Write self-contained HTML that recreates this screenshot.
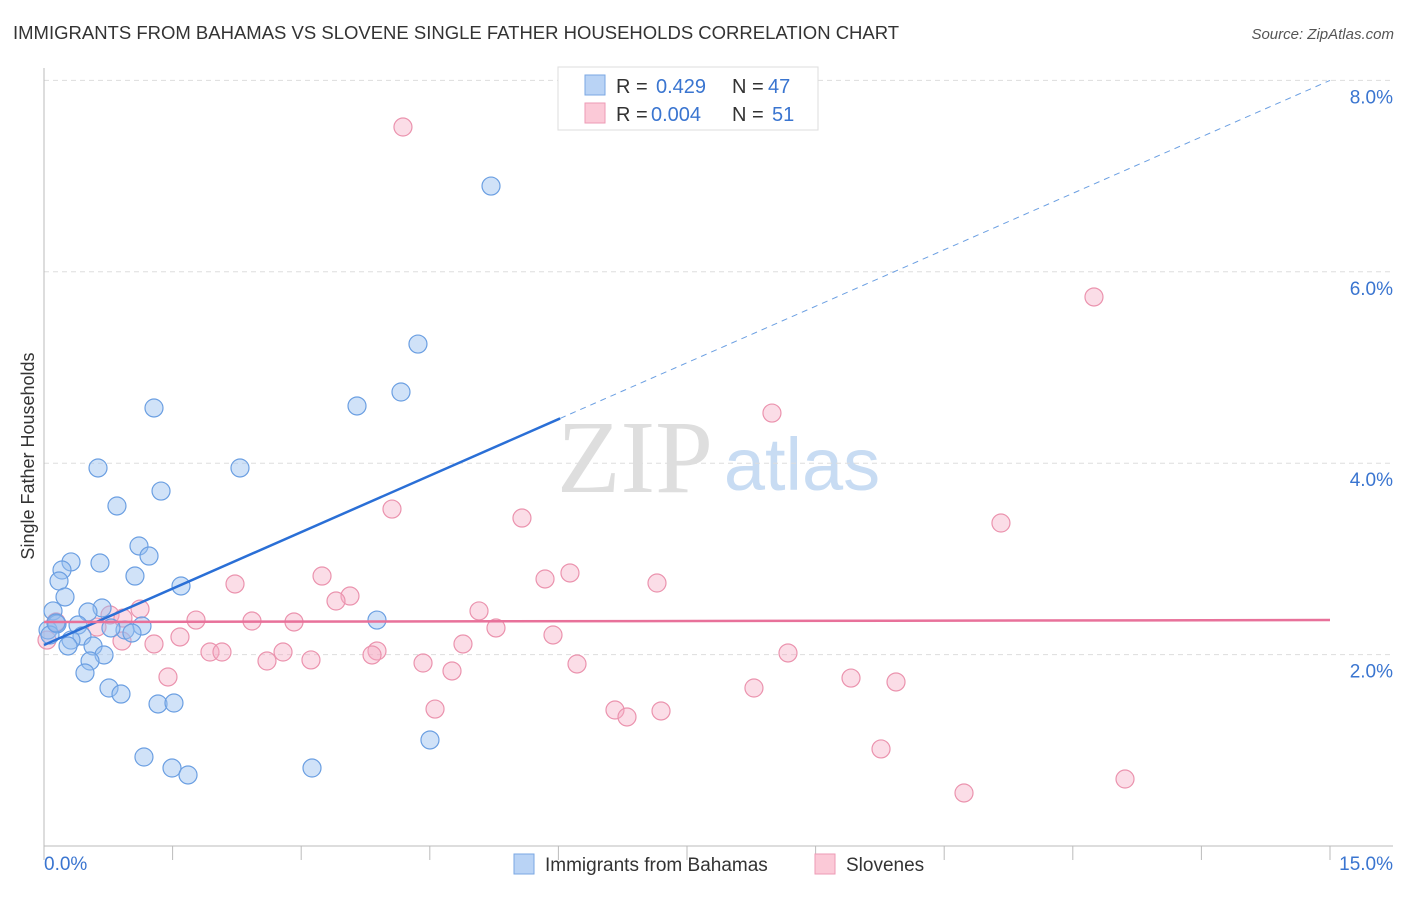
<!DOCTYPE html>
<html><head><meta charset="utf-8"><style>
body{margin:0;background:#fff;font-family:"Liberation Sans",sans-serif}
</style></head><body>
<svg id="chart" width="1406" height="892" xmlns="http://www.w3.org/2000/svg" font-family="Liberation Sans, sans-serif">
<text x="13" y="39" font-size="18.5" fill="#333">IMMIGRANTS FROM BAHAMAS VS SLOVENE SINGLE FATHER HOUSEHOLDS CORRELATION CHART</text>
<text x="1394" y="39" font-size="15" fill="#555" text-anchor="end" font-style="italic">Source: ZipAtlas.com</text>
<text transform="translate(34,456) rotate(-90)" font-size="18" fill="#333" text-anchor="middle">Single Father Households</text>
<g>
<text x="635" y="492" font-size="104" fill="#dedede" font-family="Liberation Serif, serif" text-anchor="middle">ZIP</text>
<text x="802" y="490" font-size="74" fill="#c8dcf3" text-anchor="middle">atlas</text>
</g>
<g id="grid"></g><g id="axes"></g><g id="lines"></g><g id="pts"></g>
<g>
<rect x="558" y="67" width="260" height="63" fill="#fff" stroke="#ddd"/>
<rect x="585" y="75" width="20" height="20" fill="#b9d3f5" stroke="#7aa7e3"/>
<rect x="585" y="103" width="20" height="20" fill="#fbc9d7" stroke="#ee9ab4"/>
<text x="616" y="93" font-size="20" fill="#333">R = </text><text x="656" y="93" font-size="20" fill="#3a75d0">0.429</text>
<text x="732" y="93" font-size="20" fill="#333">N = </text><text x="768" y="93" font-size="20" fill="#3a75d0">47</text>
<text x="616" y="121" font-size="20" fill="#333">R = </text><text x="651" y="121" font-size="20" fill="#3a75d0">0.004</text>
<text x="732" y="121" font-size="20" fill="#333">N = </text><text x="772" y="121" font-size="20" fill="#3a75d0">51</text>
</g>
<g>
<rect x="514" y="854" width="20" height="20" fill="#b9d3f5" stroke="#7aa7e3"/>
<text x="545" y="871" font-size="19" fill="#333">Immigrants from Bahamas</text>
<rect x="815" y="854" width="20" height="20" fill="#fbc9d7" stroke="#ee9ab4"/>
<text x="846" y="871" font-size="19" fill="#333">Slovenes</text>
</g>
</svg>
<script>
const yTicks=[2,4,6,8];
const yTickLabels=["2.0%","4.0%","6.0%","8.0%"];
const xTicks=[0,1.5,3,4.5,6,7.5,9,10.5,12,13.5,15];
const blueX=[5.214,4.362,4.164,3.651,1.283,0.630,2.286,1.365,0.851,1.108,1.225,0.315,0.653,0.210,1.061,0.175,1.598,0.245,0.105,0.677,0.513,3.884,1.143,0.397,0.945,1.026,0.047,0.152,0.781,0.443,0.315,0.280,0.572,0.700,0.537,0.478,0.758,0.898,1.330,1.516,4.502,1.166,1.493,3.126,1.680,0.070,0.140];
const blueY=[6.896,5.245,4.744,4.598,4.577,3.950,3.950,3.709,3.553,3.135,3.030,2.968,2.957,2.884,2.821,2.769,2.717,2.602,2.456,2.487,2.445,2.361,2.299,2.309,2.257,2.226,2.257,2.320,2.278,2.194,2.152,2.090,2.090,1.996,1.933,1.808,1.651,1.588,1.484,1.494,1.108,0.930,0.815,0.815,0.742,2.205,2.330];
const pinkX=[4.187,12.247,8.491,5.575,4.059,11.162,6.135,5.844,7.150,3.243,2.228,3.569,3.406,1.120,5.074,0.770,0.921,1.773,2.426,2.916,5.272,0.140,5.937,1.586,1.283,4.887,0.910,3.884,3.826,1.936,2.076,2.788,8.678,3.114,2.601,4.421,6.217,4.759,1.446,9.413,9.938,8.281,4.561,6.660,6.800,7.197,9.763,12.609,10.731,0.035,0.618];
const pinkY=[7.513,5.737,4.524,3.427,3.521,3.375,2.853,2.790,2.748,2.821,2.738,2.612,2.560,2.476,2.456,2.414,2.382,2.361,2.351,2.341,2.278,2.341,2.205,2.184,2.111,2.111,2.142,2.038,1.996,2.027,2.027,2.027,2.017,1.944,1.933,1.912,1.902,1.829,1.766,1.755,1.714,1.651,1.431,1.421,1.348,1.411,1.014,0.700,0.554,2.152,2.288];
const blueTrend=[2.100,8.0];
const pinkTrend=[2.341,2.361];
const blueSolidEnd=6.02;
const NS="http://www.w3.org/2000/svg";
const X=v=>44+v/15*1286, Y=v=>846-v*95.7;
function mk(t,a,p){const e=document.createElementNS(NS,t);for(const k in a)e.setAttribute(k,a[k]);document.getElementById(p).appendChild(e);return e;}
yTicks.forEach((t,i)=>{
 const g=mk('line',{x1:44,x2:1393,y1:Y(t),y2:Y(t),stroke:'#ddd','stroke-dasharray':'5,4'},'grid');
 
 
 const l=mk('text',{x:1393,y:Y(t)+23,'font-size':19,fill:'#3a75d0','text-anchor':'end'},'grid');
 l.textContent=yTickLabels[i];
 
 
});
const ya=mk('line',{x1:44,x2:44,y1:68,y2:846,stroke:'#bbb'},'axes');


const xa=mk('line',{x1:44,x2:1393,y1:846,y2:846,stroke:'#bbb'},'axes');


xTicks.forEach(t=>{const e=mk('line',{x1:X(t),x2:X(t),y1:846,y2:860,stroke:'#bbb'},'axes');
 
 });
const x0=mk('text',{x:44,y:870,'font-size':19,fill:'#3a75d0'},'axes');x0.textContent='0.0%';


const x1=mk('text',{x:1393,y:870,'font-size':19,fill:'#3a75d0','text-anchor':'end'},'axes');x1.textContent='15.0%';


const bt=v=>blueTrend[0]+(blueTrend[1]-blueTrend[0])*v/15;
const pt=v=>pinkTrend[0]+(pinkTrend[1]-pinkTrend[0])*v/15;
pinkX.forEach((x,i)=>{const c=mk('circle',{cx:X(x),cy:Y(pinkY[i]),r:9,fill:'rgba(246,170,194,0.4)',stroke:'#eb93ae','stroke-width':1.2},'pts');
 
 });
blueX.forEach((x,i)=>{const c=mk('circle',{cx:X(x),cy:Y(blueY[i]),r:9,fill:'rgba(150,190,240,0.45)',stroke:'#6b9fe2','stroke-width':1.2},'pts');
 
 });
const l1=mk('line',{x1:X(0),y1:Y(bt(0)),x2:X(blueSolidEnd),y2:Y(bt(blueSolidEnd)),stroke:'#2a6fd6','stroke-width':2.5},'pts');


const l2=mk('line',{x1:X(blueSolidEnd),y1:Y(bt(blueSolidEnd)),x2:X(15),y2:Y(bt(15)),stroke:'#6b9fe2','stroke-width':1,'stroke-dasharray':'6,5'},'pts');


const l3=mk('line',{x1:X(0),y1:Y(pt(0)),x2:X(15),y2:Y(pt(15)),stroke:'#e8719a','stroke-width':2.5},'pts');


</script>
</body></html>
